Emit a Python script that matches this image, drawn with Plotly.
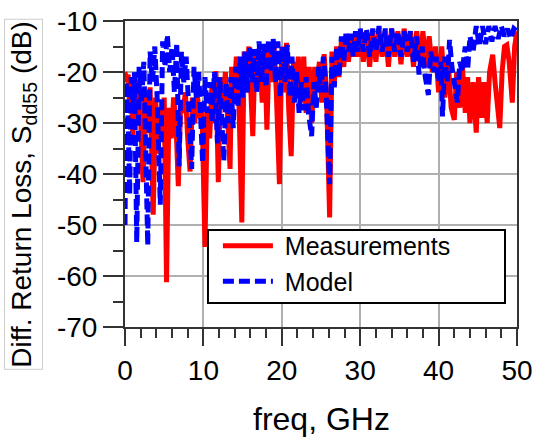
import plotly.graph_objects as go

# Measurements (red)
meas_f = [0.0, 0.2, 0.4, 0.6, 0.8, 1.0, 1.2, 1.5, 1.8, 2.0, 2.3, 2.6, 2.9, 3.2, 3.6, 3.9, 4.2, 4.5, 4.8, 5.0,
          5.3, 5.6, 5.9, 6.2, 6.5, 6.8, 7.1, 7.4, 7.7, 8.0, 8.3, 8.6, 8.9, 9.2, 9.5, 9.8, 10.2, 10.5, 10.8, 11.1,
          11.4, 11.6, 11.9, 12.2, 12.5, 12.8, 13.1, 13.4, 13.6, 13.9, 14.2, 14.5, 14.9, 15.2, 15.5, 15.8, 16.0, 16.3, 16.6, 16.9,
          17.2, 17.5, 17.8, 18.1, 18.4, 18.7, 19.0, 19.3, 19.7, 20.0, 20.3, 20.6, 20.9, 21.2, 21.5, 21.8, 22.1, 22.5, 22.8, 23.1,
          23.5, 23.8, 24.2, 24.5, 24.8, 25.1, 25.4, 25.7, 26.1, 26.4, 26.7, 27.0, 27.3, 27.6, 27.9, 28.2, 28.5, 28.8, 29.1, 29.4,
          29.7, 30.0, 30.4, 30.8, 31.2, 31.6, 32.0, 32.4, 32.8, 33.2, 33.6, 34.0, 34.4, 34.8, 35.2, 35.6, 36.0, 36.4, 36.8, 37.2,
          37.6, 38.0, 38.4, 38.8, 39.2, 39.6, 40.0, 40.4, 40.8, 41.2, 41.6, 42.0, 42.3, 42.7, 43.0, 43.4, 43.7, 44.0, 44.4, 44.8,
          45.1, 45.5, 45.8, 46.2, 46.5, 46.9, 47.2, 47.5, 47.8, 48.1, 48.4, 48.7, 49.0, 49.4, 49.7, 50.0]
meas_db = [-20, -22, -20.5, -27, -21, -33, -22, -30, -21.5, -28, -41.6, -24, -32, -23, -48, -25, -36, -27, -33, -25,
           -61.2, -27, -33, -25, -30, -42.4, -26, -28, -24, -33, -39.5, -25, -30, -24, -29, -26, -54.3, -27, -33, -22,
           -30, -19.8, -41.6, -21, -27, -20, -28, -39, -19, -26, -17, -24, -49.5, -16, -24, -15, -22, -32.6, -15.5, -22,
           -16, -26, -15, -31.3, -15, -22, -14.5, -24, -42, -15, -24, -14.3, -28, -36.5, -18, -25, -17, -26, -17, -28,
           -19, -30, -19, -22, -18, -26, -16.5, -24, -48.5, -16, -22, -15, -21, -14, -19, -13.5, -18, -13, -17, -12.5,
           -17, -12, -18, -12, -19, -12, -18, -11.5, -17, -12, -19, -11.5, -17, -12, -18.5, -11.5, -17, -12, -19, -12,
           -18, -12, -19, -13, -20, -15, -24, -15, -25, -17, -27, -29.4, -20, -27, -18, -28, -21, -30, -22, -31.9,
           -21, -29, -22, -30, -20, -16.6, -22, -28, -31, -20, -15, -14.7, -18, -26, -15, -12]

# Model (blue)
model_f = [0.0, 0.15, 0.4, 0.6, 0.8, 1.0, 1.2, 1.5, 1.8, 2.1, 2.4, 2.9, 3.2, 3.5, 3.8, 4.1, 4.5, 4.8, 5.1, 5.4,
           5.7, 6.0, 6.3, 6.6, 6.9, 7.2, 7.5, 7.8, 8.1, 8.5, 8.8, 9.1, 9.4, 9.9, 10.2, 10.5, 10.8, 11.1, 11.4, 11.8,
           12.1, 12.6, 12.9, 13.2, 13.5, 13.8, 14.1, 14.4, 14.7, 15.0, 15.3, 15.6, 15.9, 16.2, 16.5, 16.8, 17.1, 17.4, 17.7, 18.0,
           18.3, 18.6, 18.9, 19.2, 19.5, 19.8, 20.1, 20.4, 20.7, 21.0, 21.3, 21.6, 21.9, 22.2, 22.5, 22.8, 23.1, 23.4, 23.8, 24.1,
           24.4, 24.7, 25.0, 25.3, 25.6, 26.1, 26.4, 26.7, 27.0, 27.3, 27.6, 27.9, 28.2, 28.5, 28.8, 29.1, 29.4, 29.7, 30.0, 30.4,
           30.8, 31.2, 31.6, 32.0, 32.4, 32.8, 33.2, 33.6, 34.0, 34.4, 34.8, 35.2, 35.6, 36.0, 36.4, 36.8, 37.2, 37.5, 37.9, 38.3,
           38.7, 39.0, 39.4, 39.7, 40.0, 40.3, 40.5, 40.8, 41.1, 41.4, 41.7, 42.0, 42.4, 42.7, 43.0, 43.4, 43.7, 44.0, 44.4, 44.8,
           45.2, 45.6, 46.0, 46.4, 46.8, 47.2, 47.6, 48.0, 48.4, 48.8, 49.2, 49.6, 50.0]
model_db = [-50, -22, -30, -44, -21, -28, -20, -53.4, -19, -26, -18, -54, -16, -22, -15, -25, -46, -14, -19, -12.7,
            -20, -15, -24, -14.3, -38.5, -16, -22, -17, -26, -39, -19, -25, -20, -37.8, -21, -28, -22, -30, -20, -34,
            -21, -37.5, -22, -30, -21, -31, -19, -27, -17, -25, -16, -24, -15, -22, -15.5, -24, -14, -22, -14.5, -23,
            -13.5, -20, -13.5, -22, -14, -25, -15, -22, -14.7, -24.8, -17, -26, -20, -28, -22, -27.5, -21, -28, -32.6, -22,
            -27, -19, -24, -17, -22, -42, -17, -23, -15, -21, -13, -18, -12, -16, -12.5, -17, -12, -16, -11.5, -16,
            -11.5, -17, -11.5, -16, -11, -16, -11.5, -17, -11.5, -16, -12, -17, -12, -16, -12, -18, -13, -20.5, -15, -21,
            -24.5, -16, -20, -17, -22, -18, -28.7, -17, -22, -13.7, -19, -22, -26, -18, -20, -15, -19.6, -13, -16, -11,
            -15, -11, -14.5, -11, -14, -11, -13.5, -11, -13, -11.5, -13.5, -11.5, -12]

x_ticks = [0, 10, 20, 30, 40, 50]
y_ticks = [-70, -60, -50, -40, -30, -20, -10]

FONT = "Liberation Sans, Arial, sans-serif"
NBSP = "\u00a0"

fig = go.Figure()
fig.add_trace(go.Scatter(x=meas_f, y=meas_db, mode="lines", name=NBSP + "Measurements",
                         line=dict(color="#ff0000", width=5)))
fig.add_trace(go.Scatter(x=model_f, y=model_db, mode="lines", name=NBSP + "Model",
                         line=dict(color="#0000ff", width=5, dash="11px,5px")))

fig.update_layout(
    width=537, height=443, autosize=False,
    margin=dict(l=125, r=20, t=21, b=116, pad=0, autoexpand=False),
    paper_bgcolor="white", plot_bgcolor="white",
    font=dict(family=FONT, color="black"),
    showlegend=True,
    legend=dict(x=0.237, y=0.340, xanchor="left", yanchor="top",
                borderwidth=0, bgcolor="rgba(0,0,0,0)",
                font=dict(size=25, family=FONT), itemwidth=50,
                tracegroupgap=0),
    shapes=[dict(type="rect", xref="paper", yref="paper",
                 x0=0.2117, x1=0.9694, y0=0.0784, y1=0.317,
                 line=dict(color="black", width=2), fillcolor="white", layer="above")],
    xaxis=dict(range=[0, 50], tickvals=x_ticks, ticktext=[str(v) for v in x_ticks],
               automargin=False,
               showgrid=True, gridcolor="#b0b0b0", gridwidth=1.5,
               showline=True, linecolor="#333333", linewidth=2, mirror=True,
               ticks="outside", ticklen=17, tickwidth=1.5, tickcolor="#333333",
               tickfont=dict(size=28, family=FONT),
               minor=dict(dtick=2, ticks="outside", ticklen=9, tickwidth=1.5, tickcolor="#333333", showgrid=False),
               zeroline=False),
    yaxis=dict(range=[-70, -10], tickvals=y_ticks, ticktext=[str(v) for v in y_ticks],
               automargin=False,
               showgrid=True, gridcolor="#b0b0b0", gridwidth=1.5,
               showline=True, linecolor="#333333", linewidth=2, mirror=True,
               ticks="outside", ticklen=20, tickwidth=1.5, tickcolor="#333333",
               tickfont=dict(size=28, family=FONT),
               minor=dict(dtick=5, ticks="outside", ticklen=10, tickwidth=1.5, tickcolor="#333333", showgrid=False),
               zeroline=False),
    annotations=[
        dict(text="freq, GHz", xref="paper", yref="paper", x=0.5, y=-0.300,
             xanchor="center", yanchor="middle", showarrow=False,
             font=dict(size=32, family=FONT)),
        dict(text="Diff. Return Loss, S<sub>dd55</sub> (dB)", xref="paper", yref="paper",
             x=-0.258, y=0.435, xanchor="center", yanchor="middle", showarrow=False,
             textangle=-90, bordercolor="#cccccc", borderwidth=1, borderpad=1,
             font=dict(size=28, family=FONT)),
    ],
)

fig.write_html("out.html")
